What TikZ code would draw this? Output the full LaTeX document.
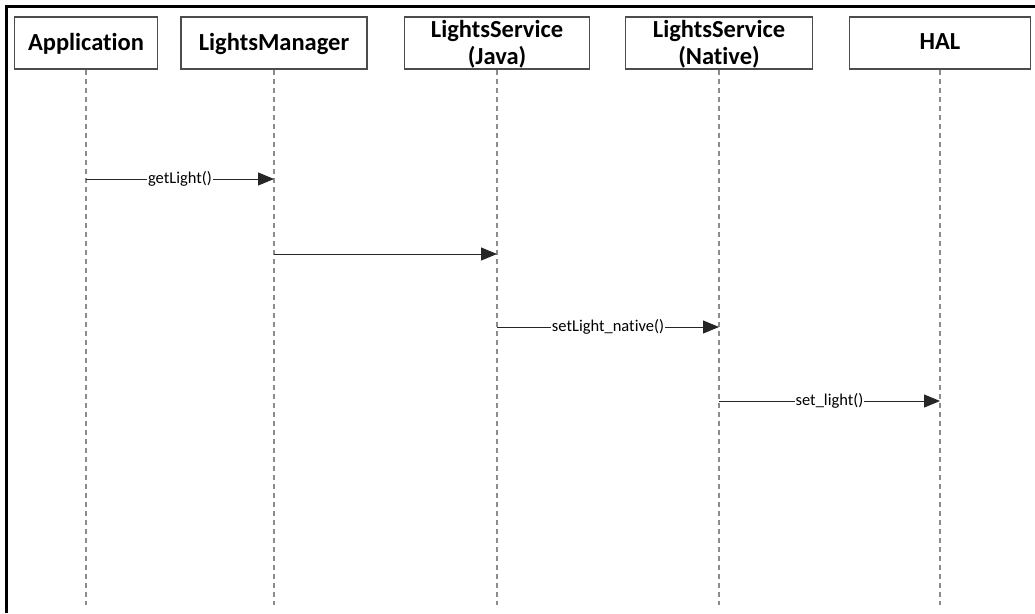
\documentclass[tikz,border=0pt]{standalone}
\usepackage{fontspec}
\setmainfont{Carlito}[Ligatures={NoCommon}]
\usetikzlibrary{arrows.meta}
\begin{document}
\begin{tikzpicture}[x=1pt,y=-1pt,
 actor/.style={draw=black!70, line width=1.3pt, minimum height=52pt, inner sep=0pt},
 actortext/.style={font=\bfseries\fontsize{24.5}{27}\selectfont, anchor=base, inner sep=0pt},
 life/.style={draw=black!45, line width=1.2pt, dash pattern=on 5pt off 4pt},
 msg/.style={draw=black!85, line width=1pt, -{Triangle[length=16pt,width=13pt]}},
 msglabel/.style={fill=white, font=\fontsize{16.5}{18}\selectfont, inner xsep=1pt, inner ysep=1pt},
 frame/.style={draw=black, line width=3pt}
]
\useasboundingbox (0,0) rectangle (1035,613);
% frame
\coordinate (fl) at (6,613);
\coordinate (fc) at (6,6);
\coordinate (fr) at (1035,6);
\draw[frame] (fl) -- (fc) -- (fr);

% actor boxes
\node[actor, minimum width=143pt] (app) at (86,43) {};
\node[actor, minimum width=186pt] (mgr) at (274,43) {};
\node[actor, minimum width=185pt] (java) at (497,43) {};
\node[actor, minimum width=187pt] (nat) at (719,43) {};
\node[actor, minimum width=181pt] (hal) at (940,43) {};

% actor texts
\node[actortext] (apptxt) at (86,50) {Application};
\node[actortext] (mgrtxt) at (274,50) {LightsManager};
\node[actortext] (javatxt1) at (497,37) {LightsService};
\node[actortext] (javatxt2) at (497,64) {(Java)};
\node[actortext] (nattxt1) at (719,37) {LightsService};
\node[actortext] (nattxt2) at (719,64) {(Native)};
\node[actortext] (haltxt) at (940,49) {HAL};

% lifelines
\coordinate (append) at (86,605);
\coordinate (mgrend) at (274,605);
\coordinate (javaend) at (497,605);
\coordinate (natend) at (719,605);
\coordinate (halend) at (940,605);
\draw[life] (app.south) -- (append);
\draw[life] (mgr.south) -- (mgrend);
\draw[life] (java.south) -- (javaend);
\draw[life] (nat.south) -- (natend);
\draw[life] (hal.south) -- (halend);

% message endpoints
\coordinate (m1a) at (86,179);
\coordinate (m1b) at (274,179);
\coordinate (m2a) at (274,254);
\coordinate (m2b) at (497,254);
\coordinate (m3a) at (497,327);
\coordinate (m3b) at (719,327);
\coordinate (m4a) at (719,401);
\coordinate (m4b) at (940,401);

\draw[msg] (m1a) -- (m1b) node[midway, msglabel] (l1) {getLight()};
\draw[msg] (m2a) -- (m2b);
\draw[msg] (m3a) -- (m3b) node[midway, msglabel] (l3) {setLight\_native()};
\draw[msg] (m4a) -- (m4b) node[midway, msglabel] (l4) {set\_light()};
\end{tikzpicture}
\end{document}
